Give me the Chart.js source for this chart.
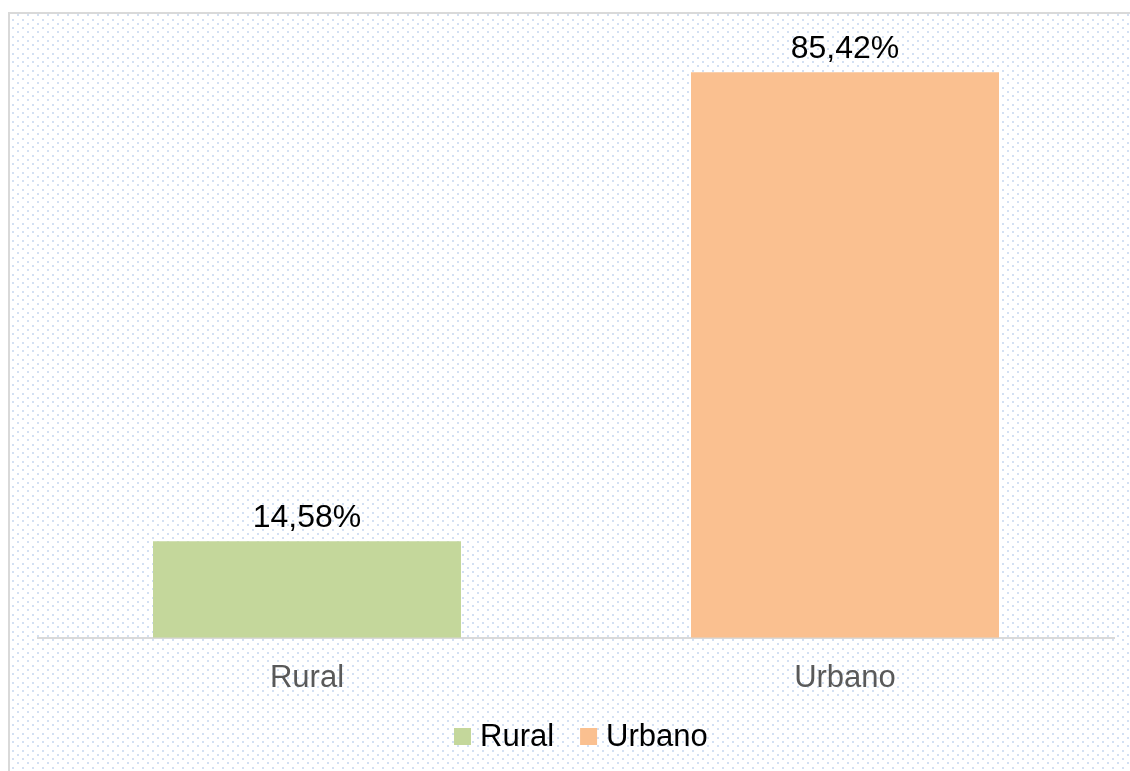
<!DOCTYPE html>
<html>
<head>
<meta charset="utf-8">
<script src="https://cdn.jsdelivr.net/npm/chart.js@4/dist/chart.umd.min.js"></script>
<style>
  html, body { margin: 0; padding: 0; background: #ffffff; }
  #wrap { width: 1130px; height: 771px; position: relative; }
</style>
</head>
<body>
<div id="wrap"><canvas id="c" width="1130" height="771"></canvas></div>
<script>
const categories = ["Rural", "Urbano"];
const seriesNames = ["Rural", "Urbano"];
const ruralValues = [14.58, null];
const urbanoValues = [null, 85.42];
const valueLabels = ["14,58%", "85,42%"];
const seriesColors = ["#C4D79B", "#FAC090"];

const FONT = "'Liberation Sans', Arial, sans-serif";

function makePattern(ctx) {
  const p = document.createElement('canvas');
  p.width = 10; p.height = 17;
  const pc = p.getContext('2d');
  pc.fillStyle = '#ffffff';
  pc.fillRect(0, 0, 10, 17);
  pc.fillStyle = '#d3e0f3';
  pc.fillRect(2, 2, 2, 2);
  pc.fillRect(7, 6, 2, 2);
  pc.fillRect(2, 10, 2, 2);
  pc.fillRect(7, 14, 2, 2);
  return ctx.createPattern(p, 'repeat');
}

const bgPlugin = {
  id: 'bg',
  beforeDraw(chart) {
    const ctx = chart.ctx;
    ctx.save();
    ctx.fillStyle = '#ffffff';
    ctx.fillRect(0, 0, chart.width, chart.height);
    ctx.fillStyle = makePattern(ctx);
    ctx.fillRect(8, 12, chart.width - 8, chart.height - 12);
    ctx.strokeStyle = '#d9d9d9';
    ctx.lineWidth = 2;
    ctx.beginPath();
    ctx.moveTo(9, chart.height);
    ctx.lineTo(9, 13);
    ctx.lineTo(chart.width, 13);
    ctx.stroke();
    ctx.restore();
  }
};

const labelPlugin = {
  id: 'valueLabels',
  afterDatasetsDraw(chart) {
    const ctx = chart.ctx;
    ctx.save();
    ctx.font = "32px " + FONT;
    ctx.fillStyle = '#000000';
    ctx.textAlign = 'center';
    ctx.textBaseline = 'bottom';
    chart.data.datasets.forEach((ds, di) => {
      const meta = chart.getDatasetMeta(di);
      ds.data.forEach((v, i) => {
        if (v === null) return;
        const el = meta.data[i];
        ctx.fillText(valueLabels[i], el.x, el.y - 7);
      });
    });
    ctx.restore();
  }
};

const legendPlugin = {
  id: 'customLegend',
  afterDraw(chart) {
    const ctx = chart.ctx;
    ctx.save();
    ctx.font = "31px " + FONT;
    ctx.textBaseline = 'middle';
    ctx.textAlign = 'left';
    const y = 736;
    const box = 17, gap = 9, itemGap = 26;
    const widths = seriesNames.map(n => ctx.measureText(n).width);
    let x = 454;
    seriesNames.forEach((n, i) => {
      ctx.fillStyle = chart.data.datasets[i].backgroundColor;
      ctx.fillRect(x, y - 8, box, box);
      ctx.fillStyle = '#000000';
      ctx.fillText(n, x + box + gap, y + 1);
      x += box + gap + widths[i] + itemGap;
    });
    ctx.restore();
  }
};

new Chart(document.getElementById('c'), {
  type: 'bar',
  data: {
    labels: categories,
    datasets: [
      { label: seriesNames[0], data: ruralValues, backgroundColor: seriesColors[0], grouped: false },
      { label: seriesNames[1], data: urbanoValues, backgroundColor: seriesColors[1], grouped: false }
    ]
  },
  options: {
    responsive: false,
    animation: false,
    devicePixelRatio: 1,
    layout: { padding: { left: 38, right: 16, top: 42, bottom: 52 } },
    categoryPercentage: 1,
    barPercentage: 0.5725,
    plugins: { legend: { display: false }, tooltip: { enabled: false } },
    scales: {
      x: {
        grid: { display: false, drawTicks: false },
        border: { display: true, color: '#d9d9d9', width: 2 },
        ticks: { color: '#595959', font: { family: FONT, size: 31 }, padding: 22 }
      },
      y: {
        display: false,
        min: 0,
        max: 90
      }
    }
  },
  plugins: [bgPlugin, labelPlugin, legendPlugin]
});
</script>
</body>
</html>
